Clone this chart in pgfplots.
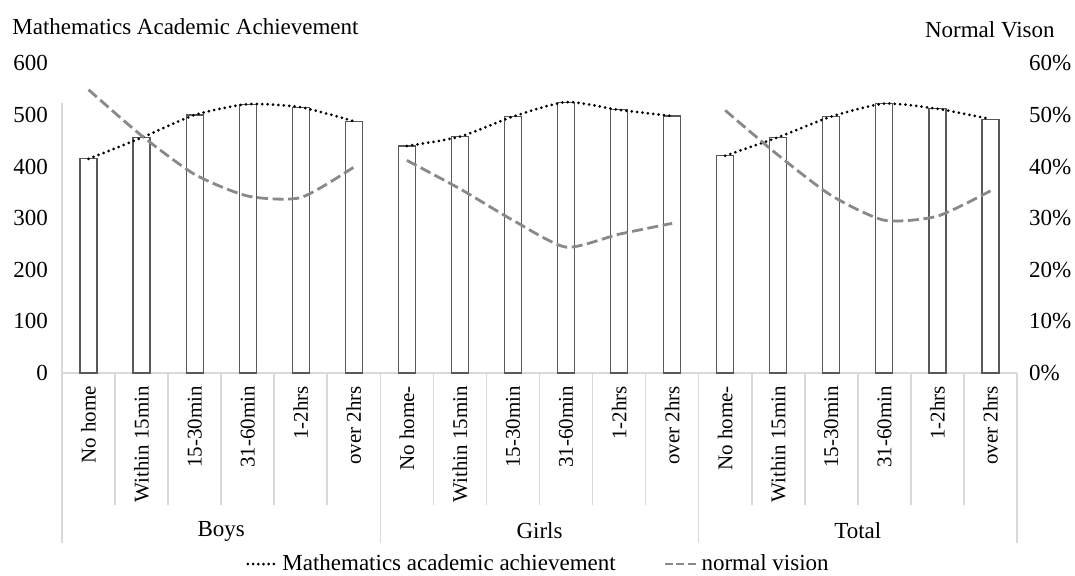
\documentclass[border=0pt]{standalone}
\usepackage{pgfplots}
\pgfplotsset{compat=1.18}
\usepackage{fontspec}
\setmainfont{Liberation Serif}
\newcommand\fA{\fontsize{11.5}{13.8}\selectfont}
\newcommand\fB{\fontsize{10.5}{12.6}\selectfont}
\definecolor{sep}{RGB}{217,217,217}
\definecolor{barc}{RGB}{89,89,89}
\definecolor{vis}{RGB}{137,137,137}
\tikzset{mathdot/.style={black, line width=1.5pt, dash pattern=on 0pt off 2.7pt, line cap=round},
         visdash/.style={vis, line width=1.4pt, dash pattern=on 5.5pt off 2.3pt}}
\begin{document}
\begin{tikzpicture}
\useasboundingbox (0,0) rectangle (537.5pt,287.5pt);
\node[anchor=west,font=\fA,inner sep=0pt] at (6pt,274pt) {Mathematics Academic Achievement};
\node[anchor=east,font=\fA,inner sep=0pt] at (527.5pt,272.5pt) {Normal Vison};
\begin{axis}[
  at={(31pt,101pt)}, anchor=south west,
  scale only axis, width=477.5pt, height=154.8pt,
  xmin=-0.5, xmax=17.5, ymin=0, ymax=600,
  clip=false,
  axis lines*=left,
  x axis line style={sep, line width=0.8pt},
  y axis line style={draw=none},
  major tick length=0pt,
  ytick={0,100,...,600},
  xtick={0,...,17},
  xticklabels={No home,Within 15min,15-30min,31-60min,1-2hrs,over 2hrs,
               No home-,Within 15min,15-30min,31-60min,1-2hrs,over 2hrs,
               No home-,Within 15min,15-30min,31-60min,1-2hrs,over 2hrs},
  xticklabel shift=3pt,
  xticklabel style={rotate=90, anchor=east, font=\fB},
  yticklabel style={font=\fA, xshift=-3.5pt},
  /pgf/number format/assume math mode=true,
]
\addplot[ybar, bar width=8.5pt, fill=white, draw=barc, line width=0.6pt, forget plot]
  coordinates {(0,415) (1,456) (2,500) (3,521) (4,515) (5,488)
               (6,440) (7,458) (8,497) (9,525) (10,510) (11,498)
               (12,421) (13,457) (14,497) (15,522) (16,512) (17,492)};
\addplot[mathdot, smooth, tension=0.4, forget plot]
  coordinates {(0,415) (1,456) (2,500) (3,521) (4,515) (5,488)};
\addplot[mathdot, smooth, tension=0.4, forget plot]
  coordinates {(6,440) (7,458) (8,497) (9,525) (10,510) (11,498)};
\addplot[mathdot, smooth, tension=0.4, forget plot]
  coordinates {(12,421) (13,457) (14,497) (15,522) (16,512) (17,492)};
% category separators
\draw[sep, line width=0.8pt] (axis cs:-0.5,524) -- (axis cs:-0.5,0) -- ++(0pt,-85pt);
\draw[sep, line width=0.8pt] (axis cs:5.5,0) -- ++(0pt,-85pt);
\draw[sep, line width=0.8pt] (axis cs:11.5,0) -- ++(0pt,-85pt);
\draw[sep, line width=0.8pt] (axis cs:17.5,0) -- ++(0pt,-85pt);
\draw[sep, line width=0.8pt] (axis cs:0.5,0) -- ++(0pt,-66pt);
\draw[sep, line width=0.8pt] (axis cs:1.5,0) -- ++(0pt,-66pt);
\draw[sep, line width=0.8pt] (axis cs:2.5,0) -- ++(0pt,-66pt);
\draw[sep, line width=0.8pt] (axis cs:3.5,0) -- ++(0pt,-66pt);
\draw[sep, line width=0.8pt] (axis cs:4.5,0) -- ++(0pt,-66pt);
\draw[sep, line width=0.8pt] (axis cs:6.5,0) -- ++(0pt,-66pt);
\draw[sep, line width=0.8pt] (axis cs:7.5,0) -- ++(0pt,-66pt);
\draw[sep, line width=0.8pt] (axis cs:8.5,0) -- ++(0pt,-66pt);
\draw[sep, line width=0.8pt] (axis cs:9.5,0) -- ++(0pt,-66pt);
\draw[sep, line width=0.8pt] (axis cs:10.5,0) -- ++(0pt,-66pt);
\draw[sep, line width=0.8pt] (axis cs:12.5,0) -- ++(0pt,-66pt);
\draw[sep, line width=0.8pt] (axis cs:13.5,0) -- ++(0pt,-66pt);
\draw[sep, line width=0.8pt] (axis cs:14.5,0) -- ++(0pt,-66pt);
\draw[sep, line width=0.8pt] (axis cs:15.5,0) -- ++(0pt,-66pt);
\draw[sep, line width=0.8pt] (axis cs:16.5,0) -- ++(0pt,-66pt);
\node[font=\fA, yshift=-79pt] at (axis cs:2.5,0) {Boys};
\node[font=\fA, yshift=-79pt] at (axis cs:8.5,0) {Girls};
\node[font=\fA, yshift=-79pt] at (axis cs:14.5,0) {Total};
\end{axis}
\begin{axis}[
  at={(31pt,101pt)}, anchor=south west,
  scale only axis, width=477.5pt, height=154.8pt,
  xmin=-0.5, xmax=17.5, ymin=0, ymax=60,
  clip=false,
  axis x line=none,
  axis y line*=right,
  y axis line style={draw=none},
  major tick length=0pt,
  ytick={0,10,...,60},
  yticklabel={\pgfmathprintnumber{\tick}\%},
  yticklabel style={font=\fA, xshift=2.5pt},
  /pgf/number format/assume math mode=true,
  legend columns=2,
  legend style={at={(rel axis cs:0.5,-0.617)}, anchor=center, draw=none, fill=none,
    font=\fA, /tikz/every even column/.append style={column sep=22pt}},
]
\addlegendimage{legend image code/.code={\draw[mathdot, dash pattern=on 0pt off 2.6pt] (1pt,0pt) -- (15.5pt,0pt);}}
\addlegendentry{Mathematics academic achievement}
\addplot[visdash, smooth, tension=0.4,
  legend image code/.code={\draw[visdash, dash pattern=on 4pt off 1.6pt] (0pt,0pt) -- (15.5pt,0pt);}]
  coordinates {(0,54.9) (1,46.0) (2,38.5) (3,34.3) (4,34.0) (5,39.9)};
\addlegendentry{normal vision}
\addplot[visdash, smooth, tension=0.4, forget plot]
  coordinates {(6,41.2) (7,35.7) (8,29.6) (9,24.4) (10,26.9) (11,29.0)};
\addplot[visdash, smooth, tension=0.4, forget plot]
  coordinates {(12,50.9) (13,42.2) (14,34.4) (15,29.6) (16,30.4) (17,35.3)};
\end{axis}
\end{tikzpicture}
\end{document}
